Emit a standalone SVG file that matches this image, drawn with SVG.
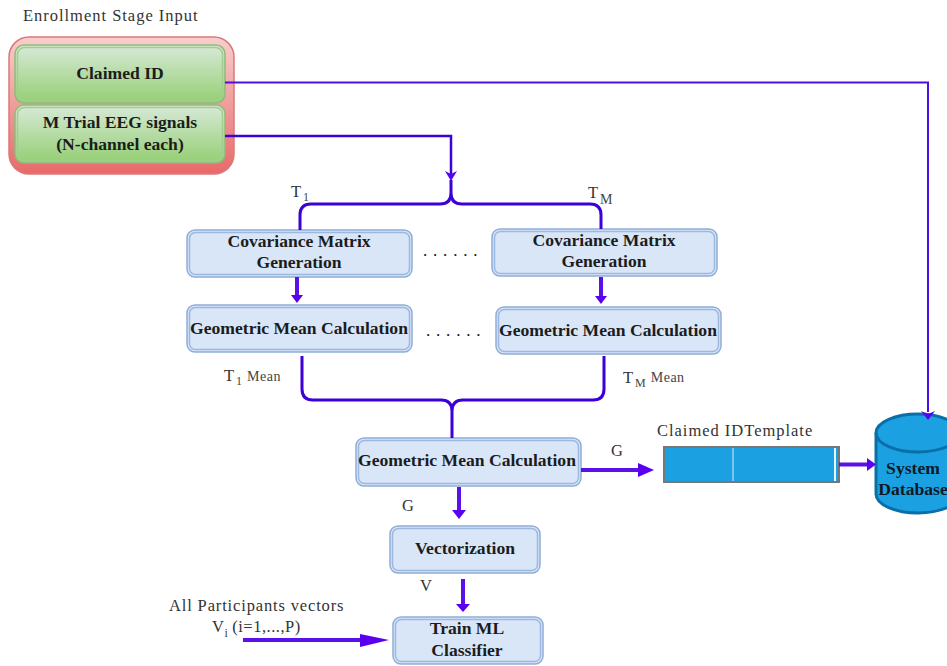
<svg xmlns="http://www.w3.org/2000/svg" width="947" height="666" viewBox="0 0 947 666">
<style>
text{font-family:"Liberation Serif","Times New Roman",serif;fill:#222}
.b{font-weight:bold;font-size:17.600px;text-anchor:middle;fill:#1c1c1c}
.l{font-size:16.500px;fill:#333;letter-spacing:.98px}
.s{font-size:12px;fill:#444}
.m{font-size:14px;fill:#444;letter-spacing:.5px}
.blue{fill:#d8e6f8;stroke:#8fadd8;stroke-width:1.500}
.blue2{fill:#d8e6f8;stroke:#9db8df;stroke-width:1.500}
.green{fill:url(#g);stroke:#8fbc78;stroke-width:1.500}
.green2{fill:url(#g);stroke:#a3cc8f;stroke-width:1.500}
.c{fill:none;stroke:#3c00d8;stroke-width:3}
.t{fill:none;stroke:#5a10e8;stroke-width:4}
.th{fill:none;stroke:#4a10e0;stroke-width:2}
.ah{fill:#5a00f0}
.dots{font-size:17px;letter-spacing:5.800px;fill:#111}
</style>
<defs>
<linearGradient id="r" x1="0" y1="0" x2="0" y2="1"><stop offset="0" stop-color="#f8cecc"/><stop offset="1" stop-color="#e8696a"/></linearGradient>
<linearGradient id="g" x1="0" y1="0" x2="0" y2="1"><stop offset="0" stop-color="#d5e8d4"/><stop offset="1" stop-color="#97d077"/></linearGradient>
</defs>
<g id="enrollment"><rect x="9" y="37" width="225" height="137" rx="20" fill="url(#r)" stroke="#d9797a" stroke-width="1.500"/></g>
<g id="claimed-id"><rect class="green" x="15" y="45" width="210" height="58" rx="9"/><rect class="green2" x="17.500" y="47.500" width="205" height="53" rx="7"/><text class="b" x="120" y="79">Claimed ID</text></g>
<g id="m-trial"><rect class="green" x="15" y="105" width="210" height="58" rx="9"/><rect class="green2" x="17.500" y="107.500" width="205" height="53" rx="7"/><text class="b" x="120" y="128">M Trial EEG signals</text><text class="b" x="120" y="150">(N-channel each)</text></g>
<g id="cov1"><rect class="blue" x="187" y="230" width="225" height="47" rx="8"/><rect class="blue2" x="189.500" y="232.500" width="220" height="42" rx="6"/><text class="b" x="299" y="247">Covariance Matrix</text><text class="b" x="299" y="268">Generation</text></g>
<g id="cov2"><rect class="blue" x="492" y="229" width="225" height="47" rx="8"/><rect class="blue2" x="494.500" y="231.500" width="220" height="42" rx="6"/><text class="b" x="604" y="246">Covariance Matrix</text><text class="b" x="604" y="267">Generation</text></g>
<g id="geo1"><rect class="blue" x="187" y="305" width="225" height="47" rx="8"/><rect class="blue2" x="189.500" y="307.500" width="220" height="42" rx="6"/><text class="b" x="299" y="333.500">Geometric Mean Calculation</text></g>
<g id="geo2"><rect class="blue" x="496" y="307" width="225" height="47" rx="8"/><rect class="blue2" x="498.500" y="309.500" width="220" height="42" rx="6"/><text class="b" x="608" y="336">Geometric Mean Calculation</text></g>
<g id="geo3"><rect class="blue" x="356" y="438" width="225" height="48" rx="8"/><rect class="blue2" x="358.500" y="440.500" width="220" height="43" rx="6"/><text class="b" x="467" y="466">Geometric Mean Calculation</text></g>
<g id="vec"><rect class="blue" x="390" y="526" width="150" height="47" rx="8"/><rect class="blue2" x="392.500" y="528.500" width="145" height="42" rx="6"/><text class="b" x="465" y="554">Vectorization</text></g>
<g id="train"><rect class="blue" x="393" y="617" width="150" height="47" rx="8"/><rect class="blue2" x="395.500" y="619.500" width="145" height="42" rx="6"/><text class="b" x="467" y="634">Train ML</text><text class="b" x="467" y="656">Classifier</text></g>
<g id="template"><rect x="664" y="447" width="175" height="35" fill="#1ba1e2" stroke="#777" stroke-width="2"/><path d="M733 448V481" stroke="#7cc4ec" stroke-width="2"/><path d="M835 448V481" stroke="#e8f4fb" stroke-width="2"/></g>
<g id="db"><path d="M876 433V494C876 505 896 513 918 513S960 505 960 494V433C960 422 940 414 918 414S876 422 876 433Z" fill="#1ba1e2" stroke="#0a6ea8" stroke-width="3"/><path d="M876 433C876 444 896 452 918 452S960 444 960 433" fill="none" stroke="#0a6ea8" stroke-width="3"/><text class="b" x="913" y="474" style="fill:#0c1a26">System</text><text class="b" x="913" y="495" style="fill:#0c1a26">Database</text></g>
<g id="connectors">
<path class="th" d="M225 82.500H928V412"/>
<path class="ah" d="M921 411L928 414L935 411L928 420Z"/>
<path class="c" style="stroke-width:2.500" d="M225 136H451V176"/>
<path class="ah" d="M445 171L451 174L457 171L451 181Z"/>
<path class="c" d="M300 230V215Q300 204 311 204H440Q451 204 451 193V180M451 193Q451 204 462 204H590Q601 204 601 215V229"/>
<path class="t" d="M297 277V296"/>
<path class="ah" d="M291 295H303L297 303Z"/>
<path class="t" d="M601 277V296"/>
<path class="ah" d="M595 296H607L601 304Z"/>
<path class="c" d="M302 356V389Q302 400 313 400H441Q452 400 452 411V438M452 411Q452 400 463 400H593Q604 400 604 389V356"/>
<path class="t" d="M581 470H640"/>
<path class="ah" d="M638 463L654 470L638 477Z"/>
<path class="t" d="M459 487V511"/>
<path class="ah" d="M452 510H466L459 519Z"/>
<path class="t" d="M463 579V605"/>
<path class="ah" d="M456 604H470L463 612Z"/>
<path class="t" d="M839 464.500H868"/>
<path class="ah" d="M867 458L876 464.500L867 471Z"/>
<path class="t" d="M243 640H362"/>
<path class="ah" d="M360 634L389 640L360 647Z"/>
</g>
<g id="labels">
<text class="l" x="23" y="21">Enrollment Stage Input</text>
<text class="l" x="291" y="197">T<tspan class="s" dx="1" dy="4">1</tspan></text>
<text class="l" x="588" y="198">T<tspan class="m" dx="1" dy="6">M</tspan></text>
<text class="dots" x="423" y="256">......</text>
<text class="dots" x="426" y="336">......</text>
<text class="l" x="224" y="381">T<tspan class="s" dx="1" dy="4">1</tspan><tspan class="m" dx="4" dy="-4">Mean</tspan></text>
<text class="l" x="623" y="383">T<tspan class="s" dx="1" dy="4">M</tspan><tspan class="m" dx="4" dy="-5">Mean</tspan></text>
<text class="l" x="611" y="456">G</text>
<text class="l" x="402" y="511">G</text>
<text class="l" x="420" y="591">V</text>
<text class="l" x="657" y="436">Claimed IDTemplate</text>
<text class="l" x="169" y="611" style="letter-spacing:.85px">All Participants vectors</text>
<text class="l" x="212" y="632" style="letter-spacing:.5px">V<tspan class="s" dx="0" dy="5">i</tspan><tspan dx="4" dy="-5">(i=1,...,P)</tspan></text>
</g>
</svg>
